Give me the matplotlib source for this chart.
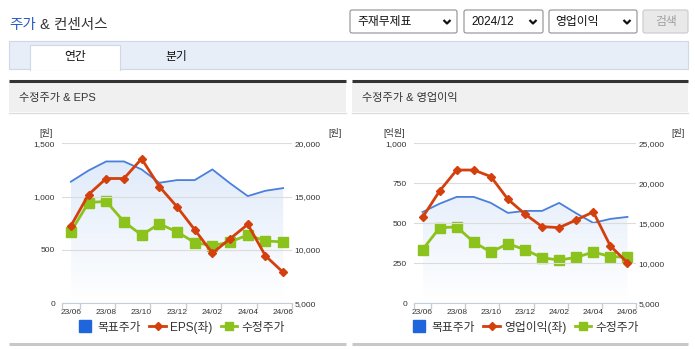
import numpy as np
import matplotlib
matplotlib.use('Agg')
import matplotlib.pyplot as plt
from matplotlib.patches import Rectangle, FancyBboxPatch
from matplotlib.lines import Line2D
from matplotlib.colors import LinearSegmentedColormap
from matplotlib.ticker import FuncFormatter

plt.rcParams['font.family'] = ['Liberation Sans', 'Noto Sans CJK KR', 'DejaVu Sans']

# data (monthly, 23/06 - 24/06)
months = ['23/06', '23/07', '23/08', '23/09', '23/10', '23/11', '23/12',
          '24/01', '24/02', '24/03', '24/04', '24/05', '24/06']
target_price = [16400, 17450, 18300, 18300, 17550, 16300, 16550, 16550, 17550, 16250, 15050, 15550, 15800]
adj_price = [11700, 14450, 14550, 12650, 11400, 12450, 11700, 10700, 10400, 10750, 11400, 10850, 10750]
eps = [725, 1020, 1170, 1170, 1355, 1095, 905, 690, 470, 605, 740, 445, 290]
op_income = [537, 702, 833, 833, 792, 650, 558, 479, 473, 521, 571, 358, 254]

eps_ticks = [0, 500, 1000, 1500]
eps_right_ticks = [5000, 10000, 15000, 20000]
op_ticks = [0, 250, 500, 750, 1000]
op_right_ticks = [5000, 10000, 15000, 20000, 25000]

BLUE = '#4a7fdb'
RED = '#d4400d'
GREEN = '#8cc21c'
TXT = '#333333'

W, H = 695, 349
fig = plt.figure(figsize=(W / 100, H / 100), dpi=100)

def fr(x0, y0, x1, y1):
    return [x0 / W, 1 - y1 / H, (x1 - x0) / W, (y1 - y0) / H]

# page chrome drawn in pixel coords
bg = fig.add_axes([0, 0, 1, 1], zorder=-5)
bg.set_xlim(0, W)
bg.set_ylim(H, 0)
bg.axis('off')

t1 = bg.text(9, 25, '주가', color='#2a5cc4', fontsize=10.5, va='center', ha='left')
bg.annotate(' & 컨센서스', xy=(1, 0), xycoords=t1, va='bottom', ha='left', color=TXT, fontsize=10.5)

boxes = [(350, 457, '주재무제표', 357), (464, 543, '2024/12', 471), (549, 637, '영업이익', 555)]
for bx0, bx1, label, tx in boxes:
    bg.add_patch(FancyBboxPatch((bx0, 10), bx1 - bx0, 23, boxstyle='round,pad=0,rounding_size=2',
                                fc='white', ec='#8f8f8f', lw=0.8))
    bg.text(tx, 22, label, fontsize=8.5, color='#111111', va='center', ha='left')
    cx = bx1 - 10
    bg.plot([cx - 3.5, cx, cx + 3.5], [20, 23.5, 20], color='#111111', lw=1.6, solid_capstyle='butt')
bg.add_patch(FancyBboxPatch((643, 10), 45, 23, boxstyle='round,pad=0,rounding_size=2',
                            fc='#e9e9e9', ec='#c9c9c9', lw=0.8))
bg.text(666, 22, '검색', fontsize=8.5, color='#a0a0a0', va='center', ha='center')

# tabs
bg.add_patch(Rectangle((9, 41), 679, 28, fc='#e8eef8', ec='#cfd8e6', lw=0.8))
bg.add_patch(Rectangle((30, 45), 90, 25, fc='white', ec='none'))
bg.plot([30, 30, 120, 120], [69.5, 45, 45, 69.5], color='#cfd8e6', lw=0.8)
bg.text(75, 57, '연간', fontsize=8.5, color='#111111', va='center', ha='center')
bg.text(176, 57, '분기', fontsize=8.5, color='#111111', va='center', ha='center')

# panel headers
for px0, px1, title in [(9, 346, '수정주가 & EPS'), (352, 688, '수정주가 & 영업이익')]:
    bg.add_patch(Rectangle((px0, 82), px1 - px0, 30, fc='#f0f0f0', ec='none'))
    bg.plot([px0, px1], [81, 81], color='#333333', lw=2.2, solid_capstyle='butt')
    bg.plot([px0, px1], [112.5, 112.5], color='#dddddd', lw=1)
    bg.plot([px0, px1], [343.5, 343.5], color='#c8c8c8', lw=2.2, solid_capstyle='butt')
    bg.text(px0 + 10, 98, title, fontsize=8, color=TXT, va='center', ha='left')

fmt = FuncFormatter(lambda v, p: f'{v:,.0f}')
fill_cmap = LinearSegmentedColormap.from_list('fill', ['#ffffff', '#dce8f9'])


def draw_chart(x0, x1, left_vals, left_ticks, right_ticks, left_name, units, legend_cx):
    ax = fig.add_axes(fr(x0, 143.3, x1, 303.3))
    ax2 = ax.twinx()
    x = np.arange(len(months))

    ax2.set_ylim(right_ticks[0], right_ticks[-1])
    poly = ax2.fill_between(x, target_price, right_ticks[0], color='none', lw=0)
    grad = np.linspace(1, 0, 256).reshape(-1, 1)
    img = ax2.imshow(grad, extent=[x[0], x[-1], right_ticks[0], right_ticks[-1]],
                     aspect='auto', cmap=fill_cmap, origin='upper', zorder=0.5)
    img.set_clip_path(poly.get_paths()[0], ax2.transData)
    ax2.plot(x, target_price, color=BLUE, lw=1.3, zorder=2)
    ax2.plot(x, adj_price, color=GREEN, lw=2, marker='s', ms=7, zorder=3)
    ax2.set_yticks(right_ticks)
    ax2.yaxis.set_major_formatter(fmt)
    ax2.tick_params(axis='y', length=0, pad=2, labelsize=6, labelcolor=TXT)

    ax.plot(x, left_vals, color=RED, lw=2, marker='D', ms=4.5, zorder=4)
    ax.set_zorder(ax2.get_zorder() + 1)
    ax.patch.set_visible(False)
    ax.set_ylim(left_ticks[0], left_ticks[-1])
    ax.set_yticks(left_ticks)
    ax.yaxis.set_major_formatter(fmt)
    ax.tick_params(axis='y', length=0, pad=5, labelsize=6, labelcolor=TXT)
    ax.yaxis.grid(True, color='#dcdcdc', lw=0.8)

    ax.set_xlim(-0.5, len(months) - 0.5)
    ax2.set_xlim(-0.5, len(months) - 0.5)
    ax.set_xticks(x[::2])
    ax.set_xticklabels(months[::2])
    ax.set_xticks([-0.5] + list(np.arange(0.5, len(months) - 1, 2)) + [len(months) - 0.5], minor=True)
    ax.tick_params(axis='x', which='major', length=0, pad=4, labelsize=6, labelcolor=TXT)
    ax.tick_params(axis='x', which='minor', length=4, color='#c5cdd9', width=1)

    for s in ax.spines.values():
        s.set_visible(False)
    for s in ax2.spines.values():
        s.set_visible(False)
    ax.spines['bottom'].set_visible(True)
    ax.spines['bottom'].set_color('#c5cdd9')

    (ux0, ut0), (ux1, ut1) = units
    bg.text(ux0, 133, ut0, fontsize=6.5, color=TXT, ha='center', va='center')
    bg.text(ux1, 133, ut1, fontsize=6.5, color=TXT, ha='center', va='center')

    handles = [
        Line2D([], [], marker='s', color='#1f66dc', ms=8, lw=0),
        Line2D([], [], color=RED, lw=2, marker='D', ms=4),
        Line2D([], [], color=GREEN, lw=2, marker='s', ms=6),
    ]
    ax.legend(handles, ['목표주가', left_name, '수정주가'], loc='center',
              bbox_to_anchor=(legend_cx / W, 1 - 327 / H), bbox_transform=fig.transFigure,
              ncol=3, frameon=False, fontsize=8.5, handlelength=1.4, handletextpad=0.35,
              columnspacing=0.7, labelcolor=TXT)


draw_chart(62, 292, eps, eps_ticks, eps_right_ticks, 'EPS(좌)', ((46, '[원]'), (335, '[원]')), 181)
draw_chart(414, 636, op_income, op_ticks, op_right_ticks, '영업이익(좌)', ((394, '[억원]'), (678, '[원]')), 525)

fig.savefig('out.png', dpi=100)
